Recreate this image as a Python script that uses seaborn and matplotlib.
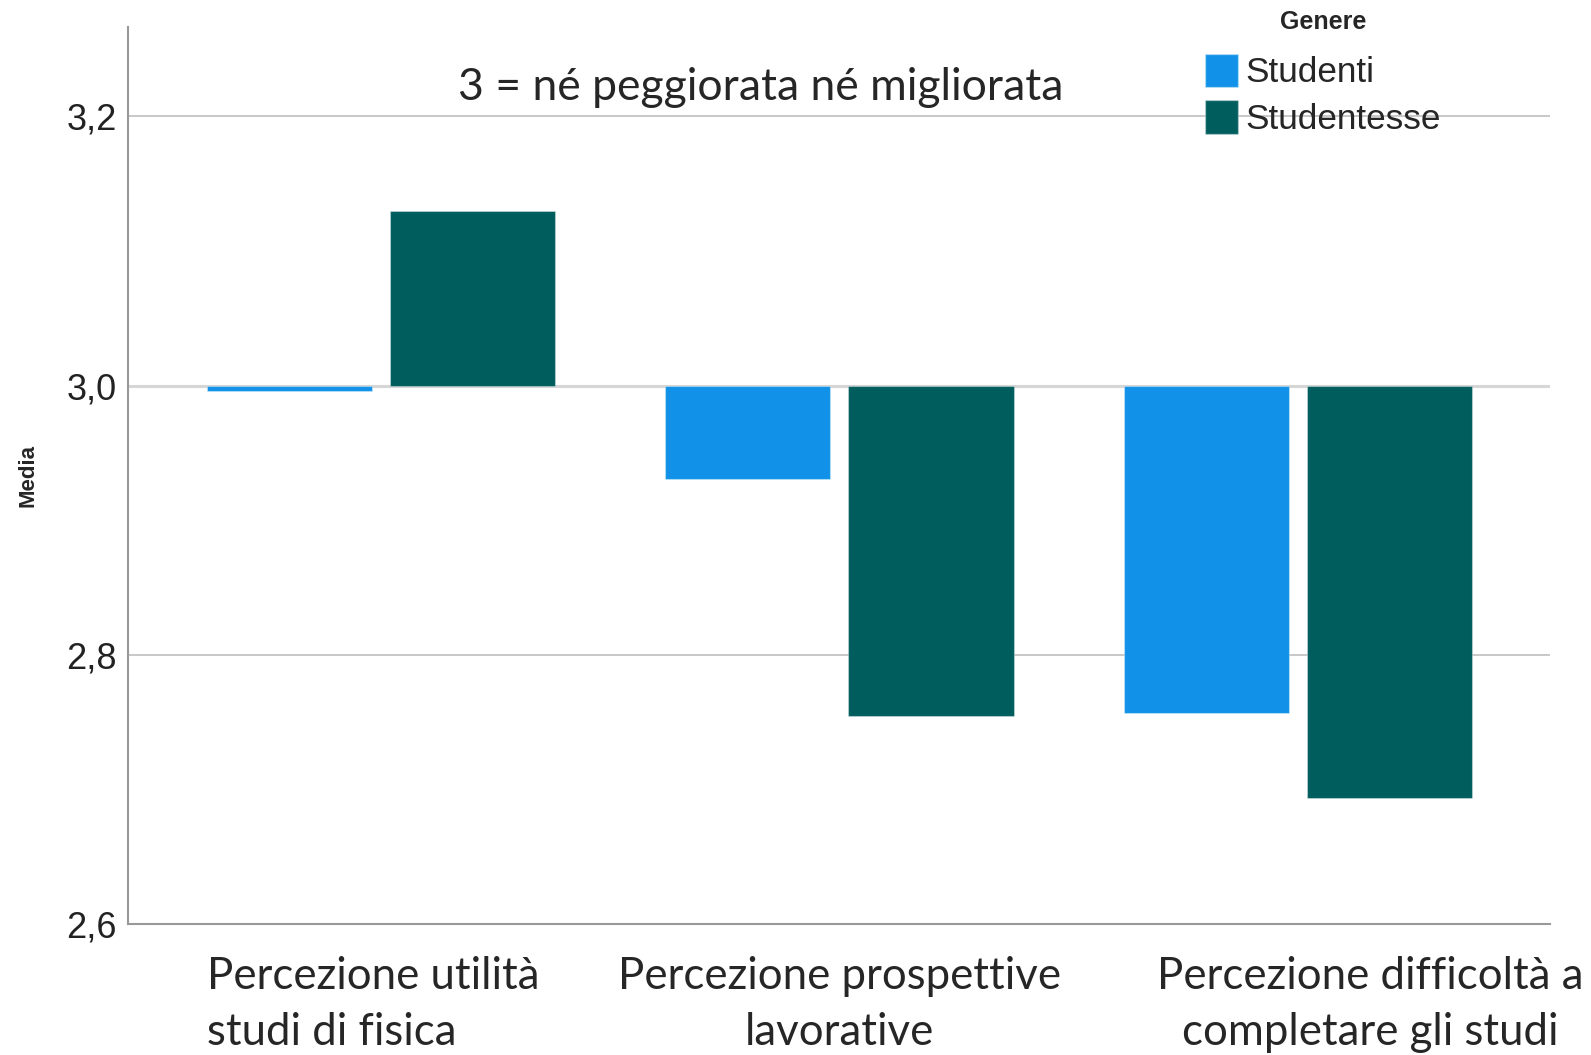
import pandas as pd
import seaborn as sns
import matplotlib
matplotlib.use('Agg')
import matplotlib.pyplot as plt
import matplotlib.transforms as mtransforms
from matplotlib.patches import Patch
from matplotlib.ticker import FuncFormatter

categorie = ['Percezione utilità\nstudi di fisica',
             'Percezione prospettive\nlavorative',
             'Percezione difficoltà a\ncompletare gli studi']
studenti = [2.996, 2.931, 2.757]
studentesse = [3.130, 2.755, 2.694]
generi = ['Studenti', 'Studentesse']
colori = ['#1192e8', '#005d5d']
base = 3.0

df = pd.DataFrame({
    'categoria': categorie * 2,
    'Genere': [generi[0]] * 3 + [generi[1]] * 3,
    'media': studenti + studentesse,
})
df['scarto'] = df['media'] - base

sns.set_style('white')
plt.rcParams['font.family'] = ['Liberation Sans', 'DejaVu Sans']

fig = plt.figure(figsize=(15.91, 10.55), dpi=100)
ax = fig.add_axes([0.0803, 0.1239, 0.8939, 0.8508])

# le barre partono da 3 (valore neutro)
sns.barplot(data=df, x='categoria', y='scarto', hue='Genere', palette=colori,
            saturation=1, errorbar=None, width=0.8, gap=0.1, bottom=base,
            linewidth=0.8, edgecolor='#ffffff55', legend=False, ax=ax)

ax.set_ylim(2.6, 3.2666)
ax.set_xlim(-0.552, 2.55)
ax.set_yticks([2.6, 2.8, 3.0, 3.2])
ax.yaxis.set_major_formatter(FuncFormatter(lambda v, p: f'{v:.1f}'.replace('.', ',')))
ax.grid(axis='y', color='#c4c4c4', linewidth=1.3)
ax.get_ygridlines()[2].set_color('#d6d6d6')
ax.get_ygridlines()[2].set_linewidth(2.2)
ax.set_axisbelow(True)
ax.tick_params(axis='both', length=0)
ax.tick_params(axis='y', labelsize=26, pad=8, labelcolor='#222222')

for s in ['top', 'right']:
    ax.spines[s].set_visible(False)
for s in ['left', 'bottom']:
    ax.spines[s].set_color('#999999')
    ax.spines[s].set_linewidth(1.5)

ax.set_xlabel('')
ax.set_ylabel('Media', fontsize=16, fontweight='bold', labelpad=20)

ax.set_xticks(range(len(categorie)))
ax.set_xticklabels(categorie, fontsize=31.5, family=['Lato', 'DejaVu Sans'], linespacing=1.45)
ax.tick_params(axis='x', pad=23)
etichette = ax.get_xticklabels()
etichette[0].set_multialignment('left')
etichette[0].set_transform(etichette[0].get_transform() +
                           mtransforms.ScaledTranslation(-0.08, 0, fig.dpi_scale_trans))
etichette[2].set_transform(etichette[2].get_transform() +
                           mtransforms.ScaledTranslation(0.72, 0, fig.dpi_scale_trans))

maniglie = [Patch(facecolor=c, edgecolor='#ffffff55', label=g) for g, c in zip(generi, colori)]
leg = ax.legend(handles=maniglie, title='Genere', loc='upper left',
                bbox_to_anchor=(1198 / 1591, 0.997),
                bbox_transform=fig.transFigure, frameon=False, fontsize=25.3,
                title_fontproperties={'weight': 'bold', 'size': 18},
                handlelength=0.95, handleheight=1.1, handletextpad=0.2,
                labelspacing=0.3, borderaxespad=0.0, borderpad=0.2)
leg._legend_box.sep = 14

fig.text(761 / 1591, 1 - 88 / 1055, '3 = né peggiorata né migliorata', fontsize=32,
         family=['Lato', 'DejaVu Sans'], ha='center', va='center')

fig.savefig('out.png', dpi=100)
